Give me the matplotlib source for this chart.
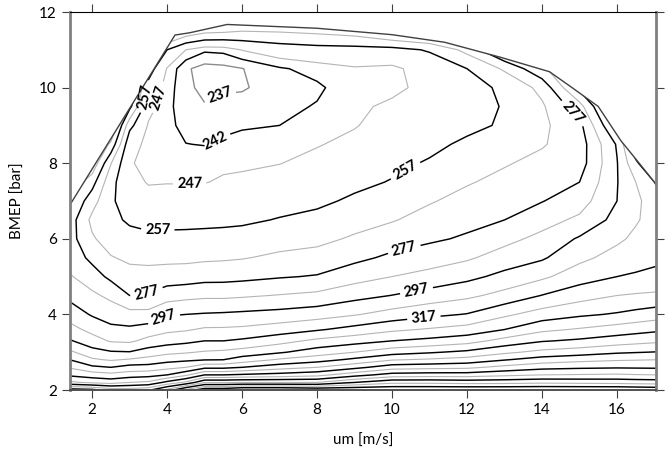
import numpy as np
import matplotlib
matplotlib.use("Agg")
import matplotlib.pyplot as plt
from matplotlib.patches import Polygon

plt.rcParams['font.family'] = ['Lato', 'DejaVu Sans']

# grid of mean piston speed (x) and BMEP (y)
speed = [1.4, 2, 2.5, 3, 3.5, 4, 4.5, 5, 5.5, 6, 7, 8, 9, 10, 11, 12, 13, 14, 15, 16, 16.5, 17.05]
bmep = [2.0, 2.2, 2.4, 2.6, 2.8, 3.0, 3.3, 3.6, 4.0, 4.5, 5.0, 5.5, 6.0, 6.5, 7.0, 7.5,
        8.0, 8.5, 9.0, 9.5, 10.0, 10.5, 11.0, 11.5, 12.0]

# BSFC [g/kWh], one list per speed column (bottom -> top)
bsfc_cols = [
    [402, 369, 355, 346, 337, 329, 318, 310.6, 302.5, 294.4, 288, 283, 281, 282, 288, 295, 300, 300, 300, 300, 300, 300, 300, 300, 300],
    [400, 365, 352, 339, 328.5, 320.7, 311.3, 304, 296, 289, 281.5, 274.5, 268.3, 264.5, 271, 281, 295, 300, 300, 300, 300, 300, 300, 300, 300],
    [393, 363, 350, 337, 326, 318, 306, 299.3, 292.7, 284.6, 274.7, 267.7, 262, 259.5, 258.5, 260, 267.5, 285, 300, 300, 300, 300, 300, 300, 300],
    [392, 367, 352, 340.8, 328, 317.5, 305.3, 298.9, 290.4, 277, 270.8, 265, 260.3, 255.5, 252, 249.5, 247.5, 249.5, 260, 280, 295, 300, 300, 300, 300],
    [395, 369, 353.2, 341, 330.3, 321.6, 310, 301.4, 290.1, 278.1, 270.7, 264.4, 259, 254.3, 249.6, 246.5, 245.5, 245.5, 246.3, 249.5, 253.5, 262, 290, 300, 300],
    [410, 380, 357, 344, 333.5, 324.5, 312.7, 304.8, 296, 282.4, 271.7, 264.5, 259.2, 254.4, 250, 246.7, 245, 243.8, 243.3, 243.5, 244.5, 246.5, 257, 285, 300],
    [430, 389, 365, 347, 335, 326, 314.5, 306, 297, 284, 272, 264.7, 259.3, 254.6, 250.3, 246.6, 244.3, 242.1, 240.5, 239, 238.3, 237.8, 247, 275, 300],
    [445, 406, 377, 354.3, 336.6, 328, 317, 308.3, 297.8, 285, 273.4, 265.3, 259.6, 254.8, 250.7, 246.7, 244.5, 241.8, 239.7, 237.4, 235.5, 235, 243, 270, 290],
    [445, 406, 377, 354.3, 337, 329, 317, 308.4, 298.3, 284.9, 273.6, 265.7, 259.7, 255.2, 251.6, 247.9, 245.6, 242.8, 240.9, 238.5, 236.3, 235.5, 243.5, 269, 290],
    [450, 407, 378.4, 357, 341.6, 331, 318.6, 309, 299, 285.7, 274.3, 266.4, 260.4, 255.5, 252, 248.5, 245.8, 243.5, 241.5, 239.5, 236.3, 236.8, 247.3, 267.3, 285],
    [450, 407, 380.7, 362.8, 348.3, 335.8, 323.5, 312, 300.4, 287.5, 276.2, 268.9, 262.9, 257.5, 253.8, 250.2, 246.8, 244.4, 242, 240.5, 240, 241.3, 251.6, 268, 285],
    [447, 407, 383.7, 367, 352.9, 342, 329.3, 315.9, 302.6, 289.3, 277.7, 270.5, 264.4, 259.3, 255.3, 252.3, 249.3, 246.5, 244.5, 242.4, 241, 244, 253.3, 269.5, 285],
    [447, 417, 393, 374, 359.3, 347, 333, 320.5, 306.2, 293.7, 283, 274.5, 268.3, 263.2, 258.4, 255, 252, 249.1, 246.5, 245.8, 245.4, 246.3, 253.5, 272, 285],
    [447, 424.5, 401, 382.5, 366.3, 352.9, 337, 325.1, 310.9, 297.2, 287, 279, 272.3, 266.3, 261.9, 257.5, 255, 252.7, 250.5, 248.2, 245.5, 245.5, 253.7, 280, 290],
    [447, 424.5, 402, 383.7, 368.3, 355.9, 339.7, 328, 314.6, 301.3, 290.1, 282.4, 275.3, 270.6, 266.2, 262, 257.8, 255, 252.5, 250.5, 249, 250.5, 258, 285, 290],
    [447, 423.3, 402, 384.7, 370.8, 359.2, 343, 331, 317.5, 304.8, 294.3, 285.6, 278.4, 273.9, 270.1, 266.2, 262.4, 258.5, 255, 253.5, 254, 257, 270, 290, 295],
    [447, 423.7, 404.7, 389.9, 376.4, 365, 350.6, 337, 325.1, 310.2, 299.8, 291.3, 284.1, 277, 273.5, 269.6, 266.2, 262, 258, 257.6, 258.5, 268.5, 290, 300, 300],
    [447, 425, 407, 393.9, 381.4, 369.7, 356.2, 344.8, 331.4, 317.3, 305.1, 295.7, 289.7, 283.2, 276.6, 273.1, 269.6, 266.2, 265, 265.5, 270, 285, 300, 300, 300],
    [447, 424.3, 407.6, 395.3, 384.2, 372.2, 358.7, 348, 335.3, 322.9, 312.5, 304.5, 298.2, 289, 282.5, 277, 272.5, 272, 274, 283, 300, 300, 300, 300, 300],
    [447, 423.7, 408.3, 396, 386, 375.6, 362, 351.5, 338, 327, 317, 310.75, 305.1, 300.3, 297, 296.5, 296.5, 298, 310, 320, 320, 320, 320, 320, 320],
    [446, 423, 407.5, 395.8, 386.5, 376.5, 363.5, 353.2, 340, 328, 318.2, 313, 309, 306, 305, 307, 315, 325, 330, 330, 330, 330, 330, 330, 330],
    [445, 422.5, 407, 395.6, 387, 377.4, 365, 355, 342.2, 328.8, 319.4, 315, 312, 311, 312, 318, 330, 330, 330, 330, 330, 330, 330, 330, 330],
]

levels = [237, 242, 247, 257, 267, 277, 287, 297, 307, 317, 327, 337, 347,
          357, 367, 377, 387, 397, 407, 417, 427, 437]

# full-load curve
full_load_speed = [1.41, 4.21, 4.6, 5.6, 8.0, 10.0, 11.4, 12.9, 14.2, 14.8, 15.5, 16.1, 17.04]
full_load_bmep = [6.9, 11.39, 11.45, 11.67, 11.57, 11.4, 11.2, 10.8, 10.42, 10.0, 9.5, 8.6, 7.45]

label_pos = [(5.4, 9.8), (5.3, 8.55), (4.6, 7.48), (3.72, 9.76), (3.41, 9.76),
             (3.75, 6.2), (10.4, 7.73), (3.45, 4.62), (10.35, 5.62), (14.9, 9.4),
             (3.9, 3.94), (10.65, 4.64), (10.85, 3.9)]

fig = plt.figure(figsize=(6.68, 4.54), dpi=100)
ax = fig.add_axes([70 / 668, 1 - 390 / 454, (656 - 70) / 668, (390 - 12) / 454])

X, Y = np.meshgrid(speed, bmep)
Z = np.array(bsfc_cols).T

colors = []
lws = []
for i, lv in enumerate(levels):
    if lv == 237:
        colors.append('#8c8c8c'); lws.append(1.0)
    elif i % 2 == 0:
        colors.append('#b4b4b4'); lws.append(0.8)
    else:
        colors.append('black'); lws.append(1.05)
cs = ax.contour(X, Y, Z, levels=levels, colors=colors, linewidths=lws)

clip_verts = list(zip(full_load_speed, full_load_bmep)) + [(17.04, 1.9), (1.41, 1.9)]
clip_patch = Polygon(clip_verts, closed=True, facecolor='none', edgecolor='none')
ax.add_patch(clip_patch)
cs.set_clip_path(clip_patch)

txts = ax.clabel(cs, manual=label_pos, inline=True, inline_spacing=4, fmt='%d',
                 fontsize=10.5, colors='black')
for t in txts:
    t.set_fontweight('bold')

ax.plot(full_load_speed, full_load_bmep, color='#404040', lw=1.0)

ax.set_xlim(1.41, 17.04)
ax.set_ylim(2, 12)
ax.set_xticks([2, 4, 6, 8, 10, 12, 14, 16])
ax.set_yticks([2, 4, 6, 8, 10, 12])
ax.tick_params(which='both', direction='out', length=6, width=0.8, top=True, right=True,
               labeltop=False, labelright=False, labelsize=11, color='#404040')
for side in ['left', 'right']:
    ax.spines[side].set_color('#808080')
    ax.spines[side].set_linewidth(2.0)
ax.spines['top'].set_color('black')
ax.spines['top'].set_linewidth(0.8)
ax.spines['bottom'].set_color('#505050')
ax.spines['bottom'].set_linewidth(1.4)

ax.set_xlabel('um [m/s]', fontsize=11, labelpad=12)
ax.set_ylabel('BMEP [bar]', fontsize=11, labelpad=10)

fig.savefig('out.png', dpi=100)
